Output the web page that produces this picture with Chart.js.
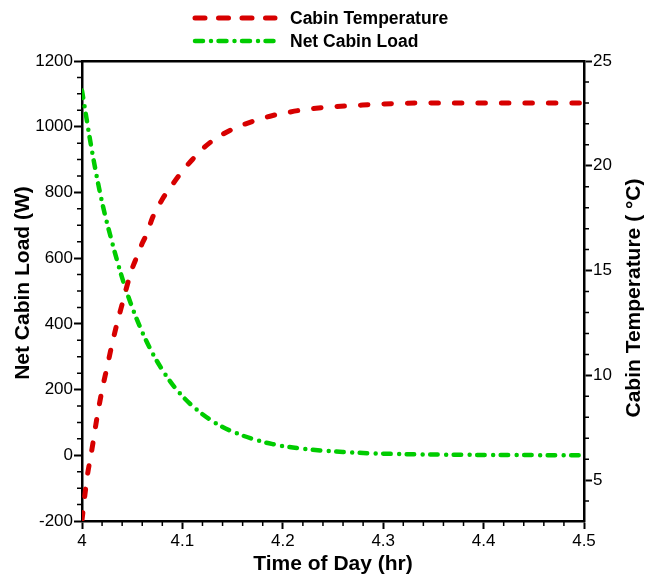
<!DOCTYPE html>
<html><head><meta charset="utf-8">
<script src="https://cdn.jsdelivr.net/npm/chart.js@4.4.0/dist/chart.umd.min.js"></script>
<style>html,body{margin:0;padding:0;background:#fff}#wrap{width:647px;height:575px;position:relative}</style>
</head><body><div id="wrap"><canvas id="c"></canvas></div>
<script>
// ---- data ----
const loadTime = [4.00,4.01,4.02,4.03,4.04,4.05,4.06,4.07,4.08,4.09,4.10,4.11,4.12,4.13,4.14,4.15,4.16,4.17,4.18,4.19,4.20,4.22,4.24,4.26,4.28,4.30,4.33,4.36,4.40,4.45,4.50];
const netCabinLoad = [1110,925,770,648,540,450,375,312,260,216,180,150,125,104,86,72,60,50,41,34,28,20,14,10,7,5,3,2,1,0.5,0];
const tempTime = [4.000,4.005,4.010,4.015,4.020,4.025,4.030,4.035,4.040,4.045,4.050,4.055,4.060,4.065,4.070,4.080,4.090,4.100,4.110,4.120,4.130,4.140,4.150,4.160,4.175,4.190,4.200,4.220,4.245,4.270,4.300,4.350,4.400,4.450,4.500];
const cabinTemp = [3.1,5.1,6.5,8.0,9.3,10.4,11.5,12.5,13.4,14.3,15.1,15.7,16.3,16.8,17.5,18.4,19.1,19.75,20.3,20.8,21.2,21.5,21.75,21.95,22.2,22.4,22.5,22.67,22.8,22.87,22.95,23.0,23.0,23.0,23.0];

const timeTicks = [4, 4.1, 4.2, 4.3, 4.4, 4.5];
const timeTickLabels = ['4', '4.1', '4.2', '4.3', '4.4', '4.5'];
const loadTicks = [-200, 0, 200, 400, 600, 800, 1000, 1200];
const loadTickLabels = ['-200', '0', '200', '400', '600', '800', '1000', '1200'];
const tempTicks = [5, 10, 15, 20, 25];
const tempTickLabels = ['5', '10', '15', '20', '25'];
const timeMinor = [4.02,4.04,4.06,4.08,4.12,4.14,4.16,4.18,4.22,4.24,4.26,4.28,4.32,4.34,4.36,4.38,4.42,4.44,4.46,4.48];
const loadMinor = [-150,-100,-50,50,100,150,250,300,350,450,500,550,650,700,750,850,900,950,1050,1100,1150];
const tempMinor = [4,6,7,8,9,11,12,13,14,16,17,18,19,21,22,23,24];

const seriesNames = ['Cabin Temperature', 'Net Cabin Load'];
const axisTitles = ['Time of Day (hr)', 'Net Cabin Load (W)', 'Cabin Temperature ( \u00B0C)'];

// ---- styles ----
const FONT = '"Liberation Sans", Arial, Helvetica, sans-serif';
const RED = '#d70000';
const GREEN = '#00cc00';
const redDash = [7.5, 16];
const greenDash = [7.5, 8.5, 0, 7.5];

const datasets = [
  {
    label: seriesNames[0],
    data: tempTime.map((t, i) => ({x: t, y: cabinTemp[i]})),
    yAxisID: 'y2',
    borderColor: RED, borderWidth: 5, borderDash: redDash, borderCapStyle: 'round',
    pointRadius: 0, fill: false, cubicInterpolationMode: 'monotone'
  },
  {
    label: seriesNames[1],
    data: loadTime.map((t, i) => ({x: t, y: netCabinLoad[i]})),
    yAxisID: 'y',
    borderColor: GREEN, borderWidth: 4.5, borderDash: greenDash, borderCapStyle: 'round',
    pointRadius: 0, fill: false, cubicInterpolationMode: 'monotone'
  }
];

const tickFont = {family: FONT, size: 17};
const gridOpts = {drawOnChartArea: false, drawTicks: true, tickLength: 8, tickWidth: 2, tickColor: '#000'};
const borderOpts = {display: true, width: 2.5, color: '#000'};

const extras = {
  id: 'extras',
  afterDraw(chart) {
    const ctx = chart.ctx;
    const a = chart.chartArea;
    const sx = chart.scales.x, sy = chart.scales.y, sy2 = chart.scales.y2;
    ctx.save();
    // minor ticks
    ctx.strokeStyle = '#000';
    ctx.lineWidth = 1.5;
    ctx.setLineDash([]);
    ctx.beginPath();
    timeMinor.forEach(v => { const p = sx.getPixelForValue(v); ctx.moveTo(p, a.bottom); ctx.lineTo(p, a.bottom + 5); });
    loadMinor.forEach(v => { const p = sy.getPixelForValue(v); ctx.moveTo(a.left, p); ctx.lineTo(a.left - 5, p); });
    tempMinor.forEach(v => { const p = sy2.getPixelForValue(v); ctx.moveTo(a.right, p); ctx.lineTo(a.right + 5, p); });
    ctx.stroke();

    // legend
    const rows = [18, 41];
    chart.data.datasets.forEach((ds, i) => {
      const y = rows[i];
      ctx.beginPath();
      ctx.strokeStyle = ds.borderColor;
      ctx.lineWidth = ds.borderWidth;
      ctx.lineCap = 'round';
      ctx.setLineDash(i === 0 ? [10, 13.5] : [8, 8, 0, 7.5]);
      ctx.moveTo(195, y);
      ctx.lineTo(275, y);
      ctx.stroke();
      ctx.setLineDash([]);
      ctx.fillStyle = '#000';
      ctx.font = 'bold 17.5px ' + FONT;
      ctx.textAlign = 'left';
      ctx.textBaseline = 'middle';
      ctx.fillText(ds.label, 290, y + 1);
    });

    // vertical axis titles (both read bottom-to-top)
    ctx.font = 'bold 21px ' + FONT;
    ctx.fillStyle = '#000';
    ctx.textAlign = 'center';
    ctx.textBaseline = 'middle';
    [[axisTitles[1], 23, 283], [axisTitles[2], 634, 298]].forEach(([t, x, y]) => {
      ctx.save();
      ctx.translate(x, y);
      ctx.rotate(-Math.PI / 2);
      ctx.fillText(t, 0, 0);
      ctx.restore();
    });
    ctx.restore();
  }
};

new Chart(document.getElementById('c'), {
  type: 'line',
  data: {datasets},
  options: {
    responsive: true,
    maintainAspectRatio: false,
    animation: false,
    devicePixelRatio: 1,
    layout: {padding: 0},
    plugins: {legend: {display: false}, tooltip: {enabled: false}},
    scales: {
      x: {
        type: 'linear', position: 'bottom', min: 4, max: 4.5,
        afterBuildTicks: s => { s.ticks = timeTicks.map(v => ({value: v})); },
        afterFit: s => { s.height = 54; },
        ticks: {font: tickFont, color: '#000', padding: 2, maxRotation: 0, autoSkip: false,
                callback: (v, i) => timeTickLabels[i]},
        grid: gridOpts, border: borderOpts,
        title: {display: true, text: axisTitles[0], color: '#000',
                font: {family: FONT, size: 21, weight: 'bold', lineHeight: 1}, padding: {top: 0, bottom: 0}}
      },
      x2: {
        type: 'linear', position: 'top', min: 4, max: 4.5,
        afterFit: s => { s.height = 61; },
        ticks: {display: false},
        grid: {drawOnChartArea: false, drawTicks: false},
        border: borderOpts
      },
      y: {
        type: 'linear', position: 'left', min: -200, max: 1200,
        afterBuildTicks: s => { s.ticks = loadTicks.map(v => ({value: v})); },
        afterFit: s => { s.width = 82; },
        ticks: {font: tickFont, color: '#000', padding: 1, autoSkip: false,
                callback: (v, i) => loadTickLabels[i]},
        grid: gridOpts, border: borderOpts
      },
      y2: {
        type: 'linear', position: 'right', min: 3.05, max: 25,
        afterBuildTicks: s => { s.ticks = tempTicks.map(v => ({value: v})); },
        afterFit: s => { s.width = 63; },
        ticks: {font: tickFont, color: '#000', padding: 1, autoSkip: false,
                callback: (v, i) => tempTickLabels[i]},
        grid: gridOpts, border: borderOpts
      }
    }
  },
  plugins: [extras]
});
</script>
</body></html>
